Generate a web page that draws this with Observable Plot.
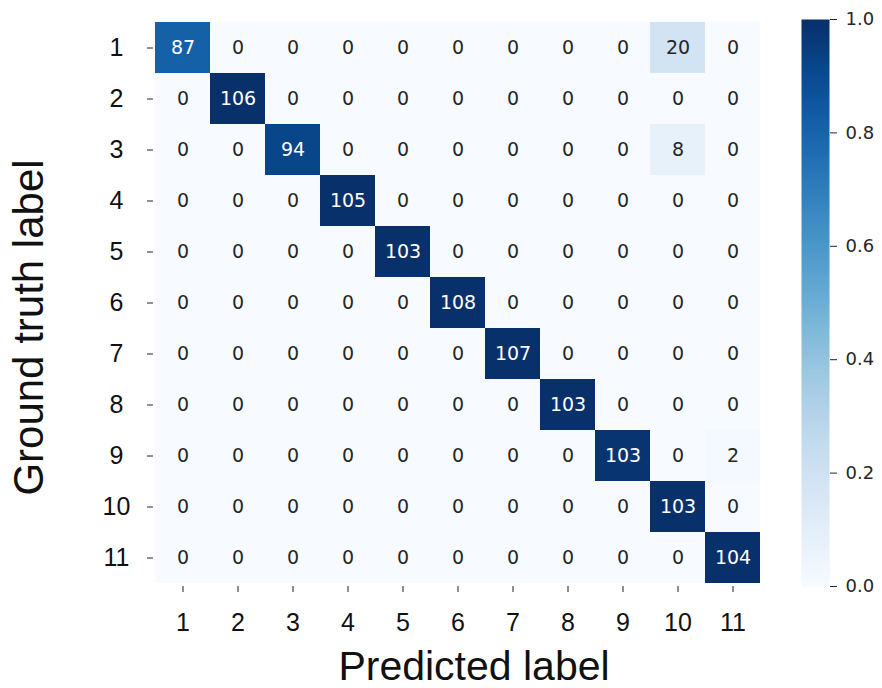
<!DOCTYPE html>
<html>
<head>
<meta charset="utf-8">
<script src="https://cdn.jsdelivr.net/npm/d3@7"></script>
<script src="https://cdn.jsdelivr.net/npm/@observablehq/plot@0.6"></script>
<style>
  html, body { margin: 0; padding: 0; background: #fff; }
  #chart { display: flex; width: 882px; height: 688px; }
</style>
</head>
<body>
<div id="chart"></div>
<script>
// Class labels (ground truth rows, predicted columns)
const classLabels = ["1", "2", "3", "4", "5", "6", "7", "8", "9", "10", "11"];

// Confusion matrix counts, one array per ground-truth class
const row1  = [87, 0, 0, 0, 0, 0, 0, 0, 0, 20, 0];
const row2  = [0, 106, 0, 0, 0, 0, 0, 0, 0, 0, 0];
const row3  = [0, 0, 94, 0, 0, 0, 0, 0, 0, 8, 0];
const row4  = [0, 0, 0, 105, 0, 0, 0, 0, 0, 0, 0];
const row5  = [0, 0, 0, 0, 103, 0, 0, 0, 0, 0, 0];
const row6  = [0, 0, 0, 0, 0, 108, 0, 0, 0, 0, 0];
const row7  = [0, 0, 0, 0, 0, 0, 107, 0, 0, 0, 0];
const row8  = [0, 0, 0, 0, 0, 0, 0, 103, 0, 0, 0];
const row9  = [0, 0, 0, 0, 0, 0, 0, 0, 103, 0, 2];
const row10 = [0, 0, 0, 0, 0, 0, 0, 0, 0, 103, 0];
const row11 = [0, 0, 0, 0, 0, 0, 0, 0, 0, 0, 104];

// Colour bar tick values
const colorbarTicks = [0, 0.2, 0.4, 0.6, 0.8, 1.0];

const matrix = [row1, row2, row3, row4, row5, row6, row7, row8, row9, row10, row11];

// Long-format table; colour is the row-normalised rate
const cells = [];
matrix.forEach((row, i) => {
  const total = d3.sum(row);
  row.forEach((count, j) => {
    cells.push({truth: classLabels[i], pred: classLabels[j], count, rate: count / total});
  });
});

const colorScale = {type: "linear", scheme: "blues", domain: [0, 1]};
const sans = "Liberation Sans, Arial, sans-serif";
const deja = "DejaVu Sans, sans-serif";

const heatmap = Plot.plot({
  width: 790,
  height: 688,
  marginLeft: 153,
  marginRight: 28,
  marginTop: 18,
  marginBottom: 102,
  style: {fontFamily: sans, color: "#111", background: "transparent"},
  x: {domain: classLabels, padding: 0, label: null},
  y: {domain: classLabels, padding: 0, label: null},
  color: colorScale,
  marks: [
    Plot.cell(cells, {x: "pred", y: "truth", fill: "rate", inset: 0}),
    Plot.text(cells.filter(d => d.rate > 0.5), {
      x: "pred", y: "truth", text: d => String(d.count),
      fill: "white", fontSize: 19, fontFamily: deja
    }),
    Plot.text(cells.filter(d => d.rate <= 0.5), {
      x: "pred", y: "truth", text: d => String(d.count),
      fill: "#262626", fontSize: 19, fontFamily: deja
    }),
    Plot.axisX({tickSize: 6, tickPadding: 21, fontSize: 25, fontFamily: sans, stroke: "#222", label: null}),
    Plot.axisY({tickSize: 6, text: null, stroke: "#222", label: null}),
    Plot.text(classLabels, {
      y: d => d, frameAnchor: "left", dx: -37, textAnchor: "middle",
      fontSize: 25, fontFamily: sans, fill: "#111"
    }),
    Plot.text(["Predicted label"], {
      frameAnchor: "bottom", dx: 16, dy: 93, lineAnchor: "bottom", textAnchor: "middle",
      fontSize: 41, fontFamily: sans, fill: "#111"
    }),
    Plot.text(["Ground truth label"], {
      frameAnchor: "left", dx: -111, dy: 25, rotate: -90,
      lineAnchor: "bottom", textAnchor: "middle",
      fontSize: 42, fontFamily: sans, fill: "#111"
    })
  ]
});

const colorbar = Plot.plot({
  width: 92,
  height: 688,
  marginLeft: 11,
  marginRight: 53,
  marginTop: 19,
  marginBottom: 102,
  style: {fontFamily: deja, color: "#262626", background: "transparent"},
  x: {domain: [0, 1], axis: null},
  y: {domain: [0, 1], label: null},
  color: colorScale,
  marks: [
    Plot.raster({x1: 0, x2: 1, y1: 0, y2: 1, width: 1, height: 300, fill: (x, y) => y}),
    Plot.axisY({
      anchor: "right", ticks: colorbarTicks, tickFormat: d3.format(".1f"),
      tickSize: 7, tickPadding: 9, fontSize: 18, fontFamily: deja, stroke: "#262626", label: null
    })
  ]
});

const host = document.getElementById("chart");
host.append(heatmap, colorbar);
</script>
</body>
</html>
